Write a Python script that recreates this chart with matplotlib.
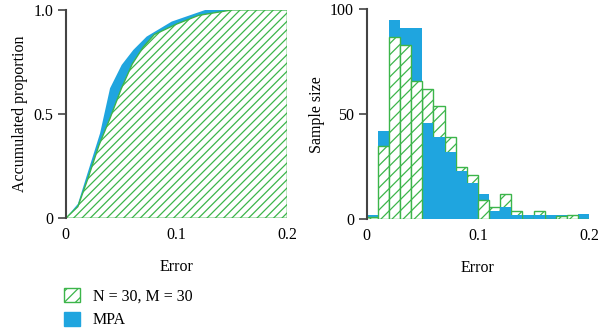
import numpy as np
import matplotlib.pyplot as plt
from matplotlib.patches import Patch

plt.rcParams['font.family'] = ['Liberation Serif', 'DejaVu Serif']
plt.rcParams['font.size'] = 11.5
plt.rcParams['hatch.linewidth'] = 0.9

green = '#3cb54a'
blue = '#1fa5df'
grey = '#444444'

# accumulated proportion curves (left)
x_nm = [0, 0.011, 0.02, 0.03, 0.04, 0.05, 0.06, 0.07, 0.08, 0.1, 0.12, 0.15, 0.2]
y_nm = [0, 0.056, 0.19, 0.35, 0.48, 0.62, 0.74, 0.822, 0.882, 0.932, 0.974, 1.0, 1.0]
x_mpa = [0, 0.011, 0.031, 0.040, 0.0505, 0.061, 0.073, 0.0956, 0.126, 0.2]
y_mpa = [0, 0.069, 0.408, 0.624, 0.736, 0.808, 0.872, 0.944, 1.0, 1.0]

# histograms (right), bins of width 0.01
bin_left = np.arange(0, 0.2, 0.01)
n_nm = [1, 35, 87, 83, 66, 62, 54, 39, 25, 21, 9, 6, 12, 4, 0, 4, 0, 1.5, 2, 0]
n_mpa = [2, 42, 95, 91, 91, 46, 39, 32, 23, 17.5, 12, 4, 6, 2, 2, 2, 2, 2, 2, 2.5]

fig = plt.figure(figsize=(6, 3.31), dpi=100)
ax1 = fig.add_axes([0.1095, 0.3405, 0.3695, 0.6295])
ax2 = fig.add_axes([0.611, 0.3375, 0.371, 0.6345])

ax1.fill_between(x_mpa, 0, y_mpa, facecolor=blue, edgecolor='none', lw=0, zorder=1)
ax1.fill_between(x_nm, 0, y_nm, facecolor='white', edgecolor=green, hatch='////', lw=1.0, zorder=2)
ax1.set_xlim(0, 0.2)
ax1.set_ylim(0, 1)
ax1.set_yticks([0, 0.5, 1.0])
ax1.set_yticklabels(['0', '0.5', '1.0'])
ax1.set_ylabel('Accumulated proportion')

n_nm_a = np.array(n_nm)
n_mpa_a = np.array(n_mpa)
big_nm = n_nm_a > n_mpa_a
# the taller bar goes behind, the shorter one in front
ax2.bar(bin_left[~big_nm], n_mpa_a[~big_nm], width=0.01, align='edge', color=blue, lw=0, zorder=1)
ax2.bar(bin_left[big_nm], n_nm_a[big_nm], width=0.01, align='edge', facecolor='white',
        edgecolor=green, hatch='///', lw=1.0, zorder=1)
ax2.bar(bin_left[big_nm], n_mpa_a[big_nm], width=0.01, align='edge', color=blue, lw=0, zorder=2)
ax2.bar(bin_left[~big_nm], n_nm_a[~big_nm], width=0.01, align='edge', facecolor='white',
        edgecolor=green, hatch='///', lw=1.0, zorder=2)
ax2.set_xlim(0, 0.2)
ax2.set_ylim(0, 100)
ax2.set_yticks([0, 50, 100])
ax2.set_ylabel('Sample size')

for ax in (ax1, ax2):
    ax.set_xticks([0, 0.1, 0.2])
    ax.set_xticklabels(['0', '0.1', '0.2'])
    ax.set_xlabel('Error', labelpad=12)
    for s in ('top', 'right', 'bottom'):
        ax.spines[s].set_visible(False)
    ax.spines['left'].set_color(grey)
    ax.spines['left'].set_linewidth(1.5)
    ax.tick_params(axis='x', length=0, pad=6)
    ax.tick_params(axis='y', direction='out', length=6, width=1.2, color=grey, pad=3)

handles = [Patch(facecolor='white', edgecolor=green, hatch='///', label='N = 30, M = 30'),
           Patch(facecolor=blue, edgecolor=blue, label='MPA')]
fig.legend(handles=handles, loc='upper left', bbox_to_anchor=(0.107, 0.13), frameon=False,
           handlelength=1.0, handleheight=1.0, handletextpad=0.8, labelspacing=0.45,
           borderaxespad=0, borderpad=0)

fig.savefig('out.png', dpi=100)
